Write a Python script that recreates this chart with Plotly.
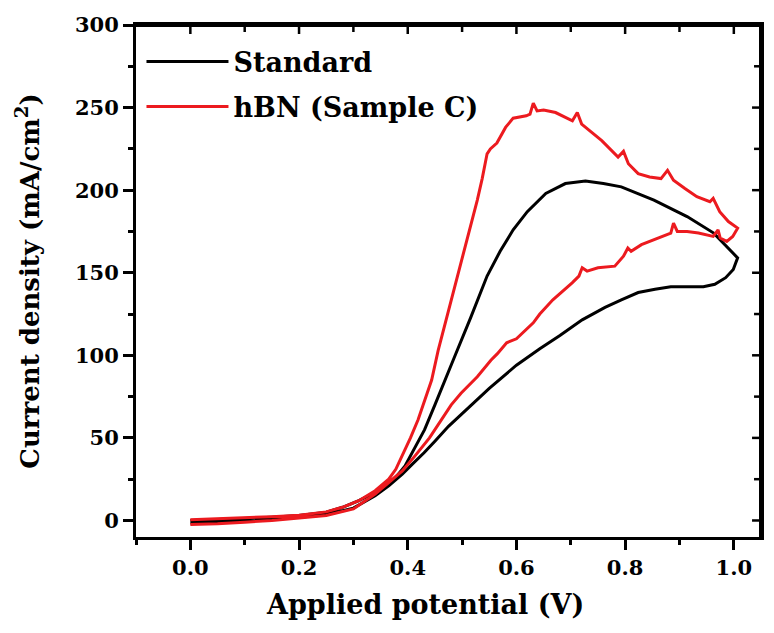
import plotly.graph_objects as go

# Standard (black) CV loop: potential (V) and current density (mA/cm2)
std_v = [0.0, 0.05, 0.1, 0.15, 0.2, 0.25, 0.28, 0.31, 0.34, 0.365,
         0.38, 0.395, 0.413, 0.431, 0.45, 0.468, 0.486, 0.516, 0.546, 0.57,
         0.594, 0.62, 0.654, 0.69, 0.727, 0.76, 0.793, 0.853, 0.914, 0.963,
         0.987, 1.007,
         0.999, 0.985, 0.965, 0.944, 0.91, 0.884, 0.855, 0.824, 0.793, 0.763,
         0.721, 0.68, 0.643, 0.6, 0.55, 0.527, 0.504, 0.475, 0.45, 0.43,
         0.408, 0.39, 0.365, 0.34, 0.3, 0.25, 0.2, 0.15, 0.1, 0.05, 0.0]
std_j = [0.0, 0.5, 1.2, 2.0, 3.0, 5.0, 8.0, 12.0, 17.0, 22.0,
         27.0, 33.0, 44.0, 55.0, 70.0, 85.0, 99.0, 123.0, 148.0, 163.0,
         176.0, 187.0, 198.0, 204.0, 205.6, 204.0, 202.0, 194.0, 184.0, 174.0,
         166.0, 159.0,
         152.0, 147.0, 143.0, 141.5, 141.5, 141.5, 140.0, 138.0, 133.6, 129.0,
         121.5, 112.0, 104.0, 94.0, 80.0, 73.0, 66.0, 57.0, 48.0, 41.0,
         34.0, 28.0, 21.0, 15.0, 7.5, 3.5, 2.0, 1.0, 0.0, -1.0, -1.5]

# hBN (Sample C) (red) CV loop
hbn_v = [0.0, 0.05, 0.1, 0.15, 0.2, 0.25, 0.28, 0.31, 0.34, 0.365,
         0.378, 0.39, 0.405, 0.419, 0.431, 0.444, 0.456, 0.468, 0.48, 0.492,
         0.504, 0.516, 0.528, 0.537, 0.546, 0.552, 0.564, 0.58, 0.594, 0.618,
         0.625, 0.631, 0.638, 0.65, 0.672, 0.703, 0.712, 0.72, 0.727, 0.757,
         0.787, 0.797, 0.806, 0.824, 0.845, 0.866, 0.878, 0.889, 0.91, 0.932,
         0.956, 0.962, 0.974, 0.99, 1.007,
         0.998, 0.987, 0.975, 0.971, 0.962, 0.935, 0.914, 0.896, 0.889, 0.884,
         0.853, 0.83, 0.811, 0.805, 0.797, 0.781, 0.75, 0.73, 0.721, 0.715,
         0.703, 0.667, 0.643, 0.631, 0.6, 0.582, 0.565, 0.558, 0.553, 0.528,
         0.498, 0.48, 0.462, 0.44, 0.413, 0.39, 0.365, 0.34, 0.3, 0.25,
         0.2, 0.15, 0.1, 0.05, 0.0]
hbn_j = [0.5, 1.0, 1.6, 2.3, 3.2, 5.2, 8.0, 12.0, 18.0, 25.0,
         31.0, 39.0, 50.0, 61.0, 73.0, 85.0, 103.0, 118.0, 133.6, 149.0,
         164.0, 179.0, 194.0, 207.0, 222.0, 225.0, 228.5, 238.0, 243.6, 245.0,
         246.0, 252.7, 248.0, 248.5, 247.0, 242.0, 247.0, 240.0, 238.0, 230.0,
         220.0, 223.5, 216.0, 210.0, 208.0, 207.0, 212.0, 206.0, 201.0, 196.0,
         193.0, 195.0, 187.0, 181.0, 177.0,
         172.0, 169.0, 171.0, 176.0, 172.0, 174.0, 175.0, 175.0, 180.0, 174.0,
         170.0, 167.0, 163.0, 165.0, 160.0, 154.0, 153.0, 151.0, 153.0, 148.0,
         144.0, 133.6, 125.0, 119.7, 110.0, 107.6, 101.0, 98.5, 97.0, 87.0,
         77.0, 70.0, 61.0, 50.0, 39.0, 30.0, 23.0, 16.0, 7.0, 3.0,
         1.5, 0.0, -1.0, -2.0, -2.5]

x_range = [-0.1, 1.05]
y_range = [-10, 300]
x_tickvals = [0.0, 0.2, 0.4, 0.6, 0.8, 1.0]
x_ticktext = ["0.0", "0.2", "0.4", "0.6", "0.8", "1.0"]
y_tickvals = [0, 50, 100, 150, 200, 250, 300]

FONT = "DejaVu Serif"
RED = "#ec1a1f"

# figure geometry (the page adds an 8 px body margin around the figure)
FIG_W, FIG_H = 758, 617
M_L, M_R, M_T, M_B = 128, 2, 17, 88
PLOT_W = FIG_W - M_L - M_R
PLOT_H = FIG_H - M_T - M_B
x_per_px = (x_range[1] - x_range[0]) / PLOT_W
y_per_px = (y_range[1] - y_range[0]) / PLOT_H

fig = go.Figure()
fig.add_trace(go.Scatter(x=std_v, y=std_j, mode="lines", name="Standard",
                         line=dict(color="black", width=3), legend="legend"))
fig.add_trace(go.Scatter(x=hbn_v, y=hbn_j, mode="lines", name="hBN (Sample C)",
                         line=dict(color=RED, width=3), legend="legend2"))

# top and right frame edges (half of the line lies inside the plot area)
fig.add_trace(go.Scatter(
    x=[x_range[0], x_range[1], x_range[1]],
    y=[y_range[1], y_range[1], y_range[0]],
    mode="lines", line=dict(color="black", width=4),
    showlegend=False, hoverinfo="skip", legend="legend"))

# inward ticks on the top and right edges, mirroring the tick values
x_minor = [round(v + 0.1, 2) for v in x_tickvals if v + 0.1 < x_range[1]]
y_minor = [v + 25 for v in y_tickvals if v + 25 < y_range[1]]
tx, ty = [], []
for vals, length in ((x_tickvals, 9), (x_minor, 7)):
    for v in vals:
        tx += [v, v, None]
        ty += [y_range[1], y_range[1] - length * y_per_px, None]
for vals, length in ((y_tickvals, 9), (y_minor, 7)):
    for v in vals:
        tx += [x_range[1], x_range[1] - length * x_per_px, None]
        ty += [v, v, None]
fig.add_trace(go.Scatter(x=tx, y=ty, mode="lines",
                         line=dict(color="black", width=2.5),
                         showlegend=False, hoverinfo="skip", legend="legend"))

axis_common = dict(showgrid=False, zeroline=False, showline=True, mirror=True,
                   linecolor="black", linewidth=3, tickcolor="black",
                   tickwidth=2.5)

leg_common = dict(xanchor="left", yanchor="middle",
                  bgcolor="rgba(0,0,0,0)", itemwidth=82,
                  font=dict(family=FONT, size=27, weight="bold", color="black"))

fig.update_layout(
    width=FIG_W, height=FIG_H,
    margin=dict(l=M_L, r=M_R, t=M_T, b=M_B),
    paper_bgcolor="white", plot_bgcolor="rgba(0,0,0,0)",
    font=dict(family=FONT, color="black"),
    showlegend=True,
    legend=dict(x=5.5 / PLOT_W, y=1 - 37 / PLOT_H, **leg_common),
    legend2=dict(x=5.5 / PLOT_W, y=1 - 82 / PLOT_H, **leg_common),
    xaxis=dict(range=x_range, tickvals=x_tickvals, ticktext=x_ticktext,
               ticks="outside", ticklen=10,
               minor=dict(dtick=0.1, tick0=0, ticks="outside", ticklen=5,
                          tickwidth=2.5, tickcolor="black"),
               tickfont=dict(family=FONT, size=21, weight="bold"),
               **axis_common),
    yaxis=dict(range=y_range, tickvals=y_tickvals,
               ticks="outside", ticklen=10,
               minor=dict(dtick=25, tick0=0, ticks="outside", ticklen=5,
                          tickwidth=2.5, tickcolor="black"),
               tickfont=dict(family=FONT, size=21, weight="bold"),
               title=dict(text="Current density (mA/cm<sup>2</sup>)",
                          font=dict(family=FONT, size=26, weight="bold"),
                          standoff=28),
               **axis_common),
    annotations=[dict(text="Applied potential (V)", xref="paper", yref="paper",
                      x=(426 - 136) / PLOT_W, y=-67 / PLOT_H,
                      xanchor="center", yanchor="middle", showarrow=False,
                      font=dict(family=FONT, size=27, weight="bold",
                                color="black"))],
)

fig.write_html("out.html")
